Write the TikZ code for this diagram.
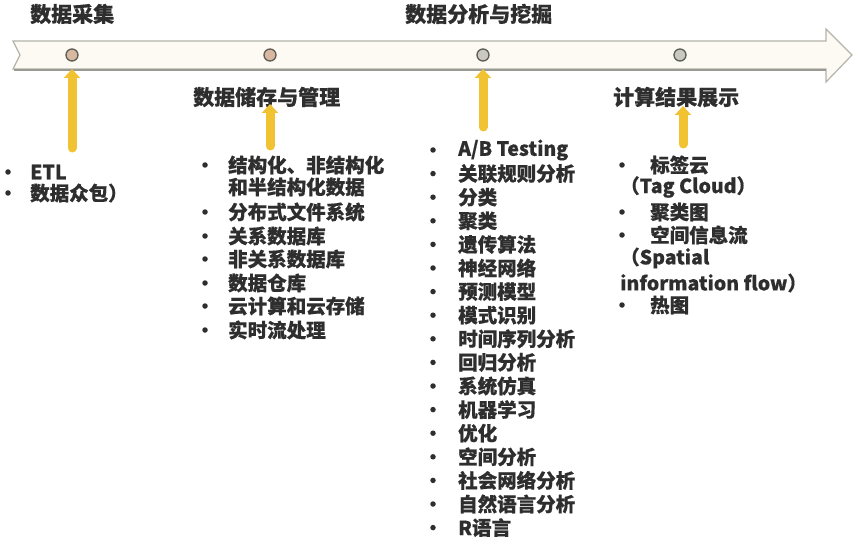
\documentclass[tikz,border=0pt]{standalone}
\usepackage{fontspec}
\setmainfont[FakeBold=0.5]{Noto Sans CJK SC}
\usetikzlibrary{arrows.meta}
\definecolor{txt}{HTML}{2E2E2E}
\definecolor{bannerfill}{HTML}{FCFAF3}
\definecolor{bannerline}{HTML}{B4B4AC}
\definecolor{bannershadow}{HTML}{9A9A92}
\definecolor{yell}{HTML}{F1C232}
\definecolor{dotwarm}{HTML}{D9B8A2}
\definecolor{dotgray}{HTML}{C9C9C1}
\definecolor{dotline}{HTML}{5C5C54}
\tikzset{
  title/.style={anchor=west, inner sep=0pt, text=txt, font=\fontsize{21}{24}\selectfont\bfseries},
  item/.style={anchor=west, inner sep=0pt, text=txt, font=\fontsize{19.5}{23}\selectfont\bfseries},
  bul/.style={circle, fill=txt, inner sep=0pt, minimum size=5.5pt},
  dotA/.style={circle, draw=dotline, line width=1.3pt, fill=dotwarm, minimum size=12pt, inner sep=0pt},
  dotB/.style={circle, draw=dotline, line width=1.3pt, fill=dotgray, minimum size=12pt, inner sep=0pt},
  yarrow/.style={draw=yell, line width=9pt, line cap=round, -{Triangle[width=16pt,length=9pt]}},
}
\begin{document}
\begin{tikzpicture}[x=1pt,y=-1pt]
\useasboundingbox (0,0) rectangle (856,540);
\fill[white] (0,0) rectangle (856,540);
% banner
\path[draw=bannerline, fill=bannerfill, line width=1.2pt, line join=miter]
  (13,41) -- (826,41) -- (826,29) -- (852,55) -- (826,82) -- (826,69) -- (13,69) -- (20,55) -- cycle;
\draw[bannershadow, line width=1.6pt] (14,70) -- (826,70);
% dots
\node[dotA] (c1) at (72,55) {};
\node[dotA] (c2) at (270,55) {};
\node[dotB] (c3) at (483,55) {};
\node[dotB] (c4) at (680,55) {};
% titles
\node[title] (t1) at (30,14) {数据采集};
\node[title] (t2) at (193,97) {数据储存与管理};
\node[title] (t3) at (405,14) {数据分析与挖掘};
\node[title] (t4) at (613,97) {计算结果展示};
% yellow arrows
\coordinate (a1s) at (72,148);  \coordinate (a1e) at (72,69);
\coordinate (a2s) at (270,146); \coordinate (a2e) at (270,104);
\coordinate (a3s) at (483,127); \coordinate (a3e) at (483,69);
\coordinate (a4s) at (683,144); \coordinate (a4e) at (683,106);
\draw[yarrow] (a1s) -- (a1e);
\draw[yarrow] (a2s) -- (a2e);
\draw[yarrow] (a3s) -- (a3e);
\draw[yarrow] (a4s) -- (a4e);
% column 1
\node[bul] (p1) at (8,172) {};
\node[item] (l1) at (30,172) {ETL};
\node[bul] (p2) at (8,193) {};
\node[item] (l2) at (30,193) {数据众包）};
% column 2
\node[bul] (q1) at (205,165) {};
\node[item] (s1) at (228,165) {结构化、非结构化};
\node[item] (s2) at (228,187) {和半结构化数据};
\node[bul] (q3) at (205,212) {};
\node[item] (s3) at (228,212) {分布式文件系统};
\node[bul] (q4) at (205,236) {};
\node[item] (s4) at (228,236) {关系数据库};
\node[bul] (q5) at (205,259) {};
\node[item] (s5) at (228,259) {非关系数据库};
\node[bul] (q6) at (205,283) {};
\node[item] (s6) at (228,283) {数据仓库};
\node[bul] (q7) at (205,306) {};
\node[item] (s7) at (228,306) {云计算和云存储};
\node[bul] (q8) at (205,330) {};
\node[item] (s8) at (228,330) {实时流处理};
% column 3
\foreach \t [count=\i] in {A/B Testing,关联规则分析,分类,聚类,遗传算法,神经网络,预测模型,模式识别,时间序列分析,回归分析,系统仿真,机器学习,优化,空间分析,社会网络分析,自然语言分析,R语言}{
  \node[bul] (mb\i) at (433,{150+(\i-1)*23.6}) {};
  \node[item] (m\i) at (458,{150+(\i-1)*23.6}) {\t};
}
% column 4
\node[bul] (r1) at (622,165) {};
\node[item] (v1) at (650,165) {标签云};
\node[item] (v2) at (620,187) {（Tag Cloud）};
\node[bul] (r3) at (622,212) {};
\node[item] (v3) at (650,212) {聚类图};
\node[bul] (r4) at (622,235) {};
\node[item] (v4) at (650,235) {空间信息流};
\node[item] (v5) at (620,258) {（Spatial};
\node[item] (v6) at (620,283) {information flow）};
\node[bul] (r7) at (622,305) {};
\node[item] (v7) at (650,305) {热图};
\end{tikzpicture}
\end{document}
